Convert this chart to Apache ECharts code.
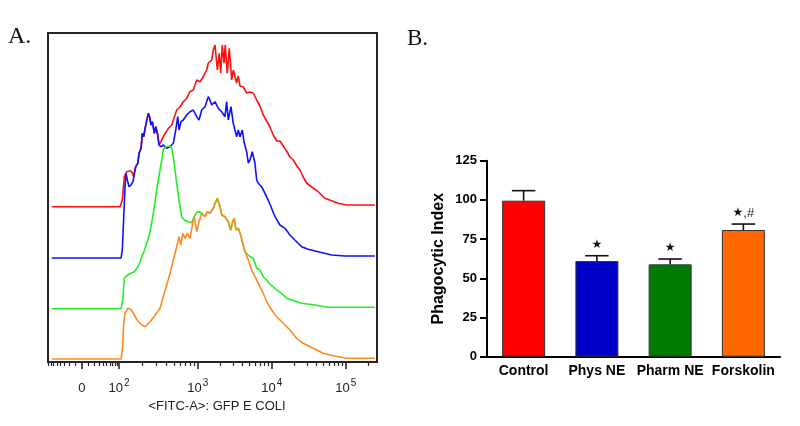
<!DOCTYPE html>
<html>
<head>
<meta charset="utf-8">
<script src="https://cdn.jsdelivr.net/npm/echarts@6.0.0/dist/echarts.min.js"></script>
<style>
  html, body { margin: 0; padding: 0; background: #ffffff; }
  #chart { width: 800px; height: 426px; }
</style>
</head>
<body>
<div id="chart"></div>
<script>
// ---------------- Panel A: flow cytometry histograms ----------------
// x: display channel (decade units of the biexponential display), y: events (arbitrary units)
const controlChannel = [1.031,1.952,1.983,2.010,2.043,2.087,2.118,2.137,2.145,2.164,2.191,2.209,2.236,2.253,2.272,2.290,2.312,2.334,2.353,2.370,2.388,2.415,2.434,2.461,2.478,2.505,2.536,2.604,2.650,2.694,2.717,2.762,2.806,2.852,2.896,2.941,2.987,3.031,3.076,3.121,3.143,3.189,3.211,3.234,3.265,3.292,3.310,3.332,3.355,3.372,3.399,3.426,3.459,3.480,3.503,3.526,3.548,3.571,3.616,3.661,3.706,3.750,3.796,3.840,3.885,3.931,3.975,4.020,4.066,4.110,4.155,4.200,4.245,4.290,4.339,4.380,4.424,4.470,4.538,4.627,4.717,4.807,4.896,5.010,5.391];
const controlCount = [0,0,6.7,30,35,36,34,30,33.4,40,43.4,53.4,58.4,73.4,70,78.4,76.7,93.4,89.4,81.7,85,73.4,80,71.7,61.7,65,70,78.4,81.7,91.7,96.7,100,105,108.4,115,116.7,126.7,125,130,136.7,143.4,146.7,156.7,161.7,136.7,153.4,133.4,161.7,143.4,161.7,133.4,158.4,126.7,136.7,135,123.7,130.7,120.7,119.7,113.7,114.7,113.7,106.7,100.7,91.7,85.7,79.7,71.7,65.7,65.7,60.7,55.7,49.7,46.7,40.7,36.7,29.7,23.7,19.7,15,8.4,6,3.4,1.7,1.7];

const physChannel = [1.031,1.966,1.983,2.002,2.020,2.033,2.056,2.074,2.101,2.128,2.145,2.164,2.191,2.209,2.236,2.253,2.272,2.290,2.312,2.334,2.353,2.370,2.388,2.415,2.434,2.461,2.478,2.505,2.536,2.582,2.627,2.671,2.704,2.731,2.748,2.775,2.806,2.852,2.896,2.941,2.987,3.018,3.054,3.099,3.143,3.166,3.189,3.234,3.278,3.324,3.368,3.391,3.413,3.449,3.480,3.503,3.526,3.548,3.571,3.602,3.629,3.661,3.683,3.706,3.737,3.773,3.796,3.818,3.863,3.908,3.975,4.043,4.110,4.178,4.245,4.312,4.403,4.492,4.627,4.807,4.987,5.391];
const physCount = [0,0,8,41.3,71.3,84.7,76.3,71.3,73,76.3,84.7,91.3,94.7,104.7,109.7,124.7,121.3,129.7,128,144.7,140.7,133,136.3,124.7,131.3,123,113,111.3,113,109.7,111.3,114.7,128,141.3,128,136.3,138,143,146.3,148,141.3,138,148,151.3,161.3,158,153,156.3,149.7,146.3,141.3,156.3,138,151.3,134.7,128,121.3,128,121.3,128,114.7,106.3,95,98,106.3,94.7,78,74.7,71.3,64.7,54,41.3,33,29.7,23,18,11.3,8.7,6.3,3,2,2];

const pharmChannel = [1.031,1.966,1.989,2.010,2.043,2.101,2.145,2.191,2.222,2.245,2.267,2.290,2.334,2.357,2.370,2.401,2.434,2.461,2.492,2.515,2.536,2.569,2.627,2.650,2.671,2.694,2.717,2.748,2.784,2.820,2.873,2.919,2.954,2.987,3.018,3.031,3.054,3.099,3.130,3.166,3.211,3.234,3.265,3.301,3.324,3.368,3.413,3.445,3.472,3.494,3.517,3.548,3.580,3.607,3.638,3.706,3.750,3.796,3.840,3.885,3.931,3.975,4.066,4.133,4.200,4.268,4.403,4.582,4.762,5.391];
const pharmCount = [0,0,8.7,30.4,33.2,35.4,37,42,46.7,52,55.4,60.4,70.4,76.7,82,94.7,112,125.4,138.7,148.7,158.7,162,162.7,160.4,152,138.7,125.4,108.7,92,88.7,87,86,92,96.7,97,95.4,95.4,92,97,95.4,100.4,105.4,110.4,102,93.7,92,87,78.7,87,90.4,78.7,80.4,73.7,65.4,57,52,50.4,40.7,38.7,32,28.7,24.7,18.7,15.4,10.4,8.7,5.4,3.7,1.4,1.4];

const forskChannel = [1.031,1.966,1.983,2.002,2.020,2.056,2.101,2.145,2.182,2.245,2.290,2.357,2.424,2.492,2.536,2.582,2.627,2.671,2.717,2.748,2.771,2.798,2.829,2.860,2.896,2.933,2.954,2.987,3.018,3.054,3.099,3.130,3.166,3.211,3.234,3.265,3.301,3.324,3.368,3.413,3.445,3.472,3.494,3.517,3.548,3.580,3.607,3.638,3.683,3.728,3.773,3.818,3.885,3.931,3.998,4.066,4.155,4.245,4.335,4.424,4.559,4.694,4.829,5.010,5.391];
const forskCount = [0,0,9,35.7,45.7,50.7,49.5,44,39,34,32.3,37.3,43.5,50.7,62.3,74,85.7,99,112.3,122.3,114,125.7,120.7,125.7,120.7,135.7,142.3,127.3,137.3,145.7,142.3,147.3,145.7,150.7,155.7,160.7,152.3,144,142.3,137.3,129,137.3,140.7,129,130.7,124,115.7,107.3,99,89,82.3,75.7,65.7,57.3,49,42.3,35.7,29,20.7,15.7,10.7,5.7,3.3,0.7,0.7];

// axis scale: fluorescence values and their display positions
const scaleValues = [0, 100, 1000, 10000, 100000];
const scalePositions = [1.436, 1.939, 3, 4, 5];
const scaleLabels = ['{b|0}', '{b|10}{s|2}', '{b|10}{s|3}', '{b|10}{s|4}', '{b|10}{s|5}'];
const axisTitleA = '<FITC-A>: GFP E COLI';

// ---------------- Panel B: phagocytic index ----------------
const groups = ['Control', 'Phys NE', 'Pharm NE', 'Forskolin'];
const phagocyticIndex = [99.5, 61.0, 58.9, 80.8];
const sem = [6.4, 3.4, 3.4, 3.8];
const significance = ['', '{s|★}', '{s|★}', '{s|★},#'];

// ---------------- helpers ----------------
function toDisplay(v) {
  const U0 = scalePositions[0], U100 = scalePositions[1];
  if (v >= 1000) return Math.log10(v);
  if (v >= 100) return U100 + (Math.log10(v) - 2) * (3 - U100);
  const s = Math.asinh(Math.abs(v) / 30) / Math.asinh(100 / 30);
  return U0 + Math.sign(v) * (U100 - U0) * s;
}
const minorValues = [];
for (let k = 1; k <= 8; k++) minorValues.push(-10 * k);
for (let k = 1; k <= 9; k++) minorValues.push(10 * k);
for (const dec of [100, 1000, 10000]) for (let k = 2; k <= 9; k++) minorValues.push(k * dec);
minorValues.push(200000);
const minorPositions = minorValues.map(toDisplay);

const xMin = 0.98, xMax = 5.42;
const FA = 'Liberation Sans, Arial, sans-serif';

function zip(xs, ys) { return xs.map((x, i) => [x, ys[i]]); }

const panelA = { left: 48, width: 329 };
const baselines = [206.7, 258, 308.7, 359];
const traceH = 200;
const traces = [
  { x: controlChannel, y: controlCount, color: '#ff1010' },
  { x: physChannel, y: physCount, color: '#1010ff' },
  { x: pharmChannel, y: pharmCount, color: '#22ee22' },
  { x: forskChannel, y: forskCount, color: '#ff8a1e' }
];

const grids = [
  { left: panelA.left, top: 33, width: panelA.width, height: 329, show: true, borderColor: '#262626', borderWidth: 2, backgroundColor: 'transparent' },
  { left: panelA.left, top: 33, width: panelA.width, height: 329 }
];
traces.forEach((t, i) => grids.push({ left: panelA.left, width: panelA.width, top: baselines[i] - traceH, height: traceH }));
grids.push({ left: 487, top: 160.7, width: 293, height: 196 }); // panel B grid index 6

const xAxes = [
  {
    gridIndex: 0, type: 'value', min: xMin, max: xMax,
    axisLine: { show: false }, splitLine: { show: false },
    axisTick: { show: true, customValues: scalePositions, length: 7, lineStyle: { color: '#262626', width: 1.6 } },
    axisLabel: {
      show: true, customValues: scalePositions, margin: 16,
      formatter: function (v) {
        let best = 0;
        scalePositions.forEach((p, i) => { if (Math.abs(p - v) < Math.abs(scalePositions[best] - v)) best = i; });
        return scaleLabels[best];
      },
      rich: {
        b: { fontFamily: FA, fontSize: 13, color: '#222', lineHeight: 17, verticalAlign: 'bottom' },
        s: { fontFamily: FA, fontSize: 10, color: '#222', lineHeight: 17, verticalAlign: 'top', padding: [0, 0, 0, 1] }
      }
    },
    name: axisTitleA, nameLocation: 'middle', nameGap: 35,
    nameTextStyle: { fontFamily: FA, fontSize: 13, color: '#222', padding: [0, 0, 0, 9] }
  },
  {
    gridIndex: 1, type: 'value', min: xMin, max: xMax,
    axisLine: { show: false }, splitLine: { show: false }, axisLabel: { show: false },
    axisTick: { show: true, customValues: minorPositions, length: 4, lineStyle: { color: '#262626', width: 1.2 } }
  }
];
const yAxes = [
  { gridIndex: 0, type: 'value', min: 0, max: 1, show: false },
  { gridIndex: 1, type: 'value', min: 0, max: 1, show: false }
];
traces.forEach((t, i) => {
  xAxes.push({ gridIndex: i + 2, type: 'value', min: xMin, max: xMax, show: false });
  yAxes.push({ gridIndex: i + 2, type: 'value', min: 0, max: traceH, show: false });
});

// panel B axes
xAxes.push({
  gridIndex: 6, type: 'category', data: groups,
  axisLine: { show: true, lineStyle: { color: '#000', width: 2 } },
  axisTick: { show: false },
  axisLabel: { interval: 0, fontFamily: FA, fontSize: 14, fontWeight: 'bold', color: '#000', margin: 7 }
});
yAxes.push({
  gridIndex: 6, type: 'value', min: 0, max: 125, interval: 25,
  axisLine: { show: true, lineStyle: { color: '#000', width: 2 } },
  axisTick: { show: true, length: 7, lineStyle: { color: '#000', width: 2 } },
  axisLabel: { fontFamily: FA, fontSize: 13, fontWeight: 'bold', color: '#000', margin: 10 },
  splitLine: { show: false },
  name: 'Phagocytic Index', nameLocation: 'middle', nameGap: 40,
  nameTextStyle: { fontFamily: FA, fontSize: 16, fontWeight: 'bold', color: '#000' }
});

const series = traces.map((t, i) => ({
  type: 'line', xAxisIndex: i + 2, yAxisIndex: i + 2,
  data: zip(t.x, t.y), showSymbol: false, symbol: 'none',
  lineStyle: { color: t.color, width: 1.6 }, z: 2 + i, silent: true, clip: false
}));

const barColors = ['#ff0000', '#0000c8', '#007a00', '#ff6600'];
series.push({
  type: 'bar', xAxisIndex: 6, yAxisIndex: 6, barWidth: 43,
  data: phagocyticIndex.map((v, i) => ({ value: v, itemStyle: { color: barColors[i], borderColor: '#333', borderWidth: 1 } })),
  z: 2
});
series.push({
  type: 'custom', xAxisIndex: 6, yAxisIndex: 6, z: 5,
  data: phagocyticIndex.map((v, i) => [i, v, v + sem[i]]),
  renderItem: function (params, api) {
    const i = params.dataIndex;
    const x = api.coord([api.value(0), 0])[0];
    const yMean = api.coord([api.value(0), api.value(1)])[1];
    const yTop = api.coord([api.value(0), api.value(2)])[1];
    const half = api.size([1, 0])[0] * 0.16;
    const st = { stroke: '#111', lineWidth: 1.6 };
    const children = [
      { type: 'line', shape: { x1: x, y1: yMean, x2: x, y2: yTop }, style: st },
      { type: 'line', shape: { x1: x - half, y1: yTop, x2: x + half, y2: yTop }, style: st }
    ];
    if (significance[i]) {
      children.push({
        type: 'text',
        style: {
          text: significance[i], x: x, y: yTop - 11, align: 'center', verticalAlign: 'middle',
          fontFamily: FA, fontSize: 13, fill: '#222',
          rich: { s: { fontFamily: 'DejaVu Sans', fontSize: 12, fill: '#111' } }
        }
      });
    }
    return { type: 'group', children: children };
  }
});

const chart = echarts.init(document.getElementById('chart'), null, { renderer: 'canvas' });
chart.setOption({
  animation: false,
  backgroundColor: '#ffffff',
  grid: grids,
  xAxis: xAxes,
  yAxis: yAxes,
  series: series,
  graphic: [
    { type: 'text', left: 8, top: 25, style: { text: 'A.', fontFamily: 'Liberation Serif, Times New Roman, serif', fontSize: 24, fill: '#111' } },
    { type: 'text', left: 407, top: 27, style: { text: 'B.', fontFamily: 'Liberation Serif, Times New Roman, serif', fontSize: 23, fill: '#111' } }
  ]
});
</script>
</body>
</html>
